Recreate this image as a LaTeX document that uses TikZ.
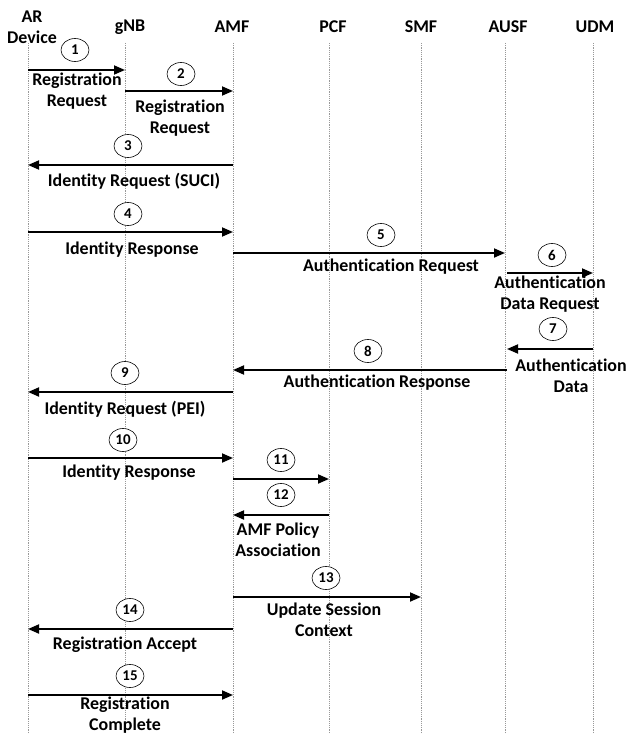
\documentclass[tikz,border=0pt]{standalone}
\usepackage{fontspec}
\setmainfont{Carlito}[Ligatures={NoCommon}]
\usetikzlibrary{arrows.meta,shapes.geometric}
\begin{document}
\begin{tikzpicture}[x=1bp,y=-1bp,
  life/.style={draw=gray!80,line width=0.7bp,dash pattern=on 1.2bp off 1bp},
  msg/.style={line width=1.8bp,-{Triangle[length=11bp,width=9bp]}},
  num/.style={ellipse,draw,fill=white,line width=0.6bp,minimum width=28bp,minimum height=23bp,inner sep=0pt,font=\fontsize{15}{17}\selectfont\bfseries},
  lbl/.style={align=center,inner sep=0pt,font=\fontsize{18}{21}\selectfont\bfseries},
  hdr/.style={align=center,inner sep=0pt,font=\fontsize{18}{21}\selectfont\bfseries}]
\useasboundingbox (0,0) rectangle (628,734);
% headers
\node[hdr] (hAR) at (32,27) {AR\\Device};
\node[hdr] (hGNB) at (130,27) {gNB};
\node[hdr] (hAMF) at (232,27) {AMF};
\node[hdr] (hPCF) at (333,27) {PCF};
\node[hdr] (hSMF) at (421,27) {SMF};
\node[hdr] (hAUSF) at (508,27) {AUSF};
\node[hdr] (hUDM) at (595,27) {UDM};
% lifelines
\coordinate (ar) at (28,43);   \coordinate (arB) at (28,734);
\coordinate (gnb) at (125,43); \coordinate (gnbB) at (125,734);
\coordinate (amf) at (233,43); \coordinate (amfB) at (233,734);
\coordinate (pcf) at (329,43); \coordinate (pcfB) at (329,734);
\coordinate (smf) at (421,43); \coordinate (smfB) at (421,734);
\coordinate (ausf) at (505,43);\coordinate (ausfB) at (505,734);
\coordinate (udm) at (593,43); \coordinate (udmB) at (593,734);
\foreach \a in {ar,gnb,amf,pcf,smf,ausf,udm}{\draw[life] (\a) -- (\a B);}
% messages
\draw[msg] (ar |- 0,70) -- (gnb |- 0,70);
\draw[msg] (gnb |- 0,91) -- (amf |- 0,91);
\draw[msg] (amf |- 0,165) -- (ar |- 0,165);
\draw[msg] (ar |- 0,232) -- (amf |- 0,232);
\draw[msg] (amf |- 0,253) -- (ausf |- 0,253);
\draw[msg] ([xshift=2bp]ausf |- 0,273) -- (udm |- 0,273);
\draw[msg] (udm |- 0,349) -- ([xshift=2bp]ausf |- 0,349);
\draw[msg] ([xshift=2bp]ausf |- 0,370) -- (amf |- 0,370);
\draw[msg] (amf |- 0,392) -- (ar |- 0,392);
\draw[msg] (ar |- 0,458) -- (amf |- 0,458);
\draw[msg] (amf |- 0,479) -- (pcf |- 0,479);
\draw[msg] (pcf |- 0,515) -- (amf |- 0,515);
\draw[msg] (amf |- 0,597) -- (smf |- 0,597);
\draw[msg] (amf |- 0,629) -- (ar |- 0,629);
\draw[msg] (ar |- 0,695) -- (amf |- 0,695);
% numbers
\node[num] (c1) at (75,50) {1};
\node[num] (c2) at (181,74) {2};
\node[num] (c3) at (128,146) {3};
\node[num] (c4) at (128,214) {4};
\node[num] (c5) at (381,235) {5};
\node[num] (c6) at (552,255) {6};
\node[num] (c7) at (553,329) {7};
\node[num] (c8) at (368,351) {8};
\node[num] (c9) at (125,373) {9};
\node[num] (c10) at (123,440) {10};
\node[num] (c11) at (281,460) {11};
\node[num] (c12) at (281,495) {12};
\node[num] (c13) at (326,578) {13};
\node[num] (c14) at (130,610) {14};
\node[num] (c15) at (130,676) {15};
% labels
\node[lbl] (l1) at (77,91) {Registration\\Request};
\node[lbl] (l2) at (180,118) {Registration\\Request};
\node[lbl] (l3) at (134,181) {Identity Request (SUCI)};
\node[lbl] (l4) at (132,250) {Identity Response};
\node[lbl] (l5) at (391,267) {Authentication Request};
\node[lbl] (l6) at (550,294.5) {Authentication\\Data Request};
\node[lbl] (l7) at (571,375.5) {Authentication\\Data};
\node[lbl] (l8) at (377,383) {Authentication Response};
\node[lbl] (l9) at (125,409) {Identity Request (PEI)};
\node[lbl] (l10) at (129,473) {Identity Response};
\node[lbl] (l12) at (278,540) {AMF Policy\\Association};
\node[lbl] (l13) at (324,620) {Update Session\\Context};
\node[lbl] (l14) at (125,645) {Registration Accept};
\node[lbl] (l15) at (125,715) {Registration\\Complete};
\end{tikzpicture}
\end{document}
